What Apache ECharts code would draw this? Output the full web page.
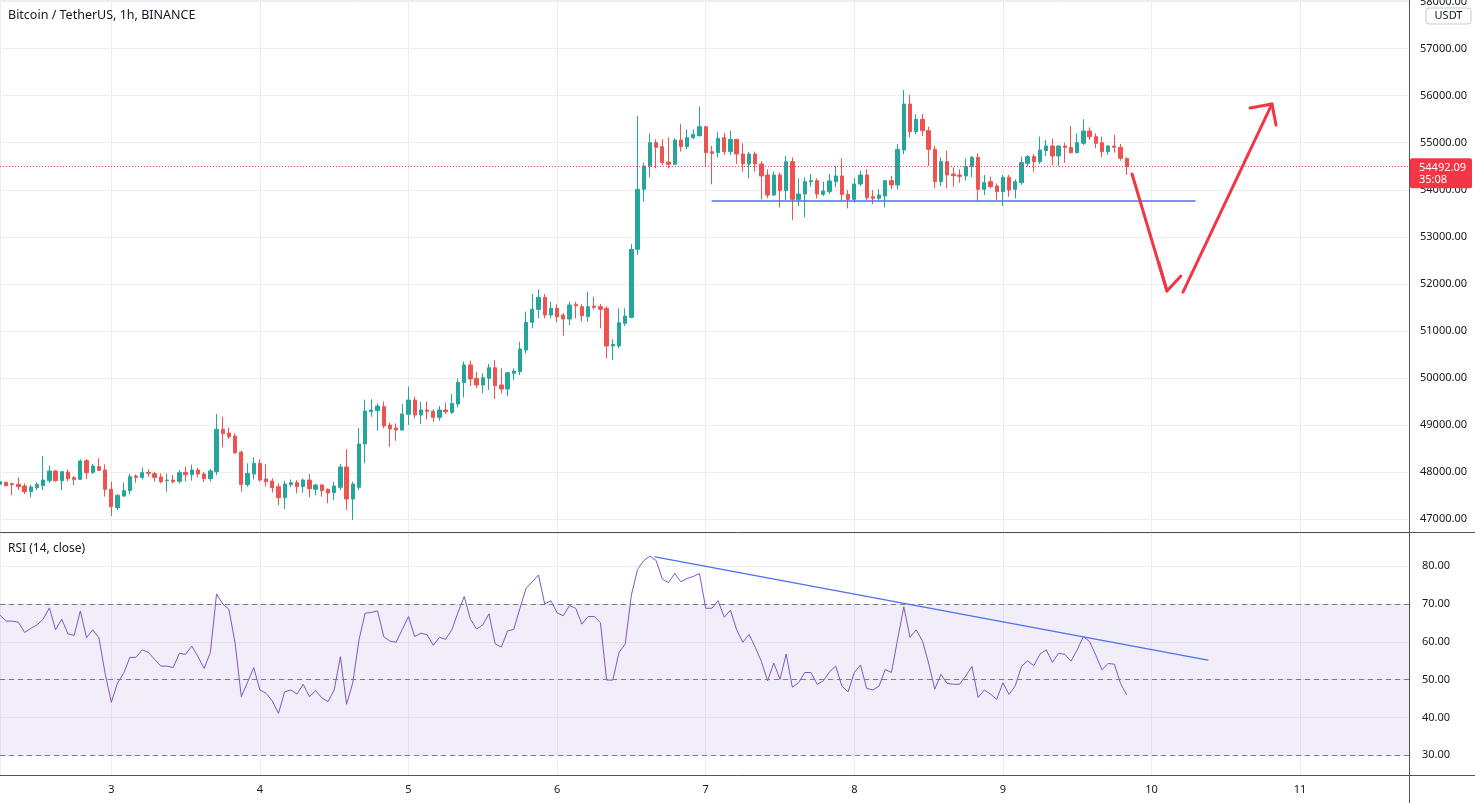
<!DOCTYPE html>
<html><head><meta charset="utf-8">
<script src="https://cdn.jsdelivr.net/npm/echarts@6/dist/echarts.min.js"></script>
<style>html,body{margin:0;padding:0;background:#fff}#c{width:1475px;height:803px}</style>
</head><body><div id="c"></div><script>
// ---- data (hourly candles, first candle: day 2, 06:00) ----
const firstCandleDay = 2.25;
const hourStep = 1 / 24;
const opens = [47742,47785,47756,47742,47707,47586,47671,47714,47820,48025,47820,48004,47884,47848,48245,47997,48117,48047,47636,47246,47494,47608,47919,47891,47997,47969,47898,47820,47834,47806,47997,47948,48047,47962,47863,48011,48911,48833,48769,48429,47735,47962,48189,47855,47813,47693,47459,47735,47778,47693,47834,47636,47728,47636,47565,47679,48111,47431,47679,48599,49286,49308,49392,49003,48939,48897,49230,49534,49215,49322,49293,49166,49322,49272,49449,49902,50278,49994,49853,49994,50221,49853,49768,50101,50136,50596,51184,51460,51715,51340,51482,51340,51255,51567,51517,51305,51531,51517,51481,50681,50681,51163,51290,52735,54010,54505,55001,54916,54590,54541,55058,54916,55107,55150,55341,54810,54789,55107,54810,55072,54760,54548,54760,54548,54314,53889,54314,53981,54597,53797,53910,54172,54194,53903,53960,54172,54293,53903,53797,54123,54314,53853,53818,53868,54194,54102,54845,55822,55235,55497,55256,54859,54172,54597,54335,54314,54293,54491,54689,54010,54172,54080,53960,54265,54010,54151,54562,54704,54597,54831,54930,54718,54930,54902,54789,54987,55249,55128,55001,54810,54930,54902,54668];
const highs = [47813,47800,47780,47891,47763,47728,47785,48344,48139,48047,48025,48061,47919,48273,48280,48174,48294,48167,47799,47537,47778,47969,47955,48103,48061,48011,47976,47976,47940,48047,48117,48160,48090,48011,48068,49237,49180,48953,48826,48458,48189,48316,48273,48174,47870,47763,47820,47848,47834,47862,47962,47749,47749,47657,47799,48174,48486,47799,48939,49540,49550,49463,49499,49052,49038,49449,49817,49605,49499,49499,49336,49407,49478,49662,49994,50349,50370,50136,50101,50299,50384,50207,50122,50207,50773,51411,51786,51885,51786,51623,51567,51375,51623,51623,51567,51836,51729,51573,51517,50823,51481,51481,52848,55568,54576,55199,55072,55072,55114,55093,55397,55284,55284,55766,55355,54930,55235,55213,55256,55080,54987,54810,54810,54612,54434,54385,54364,54718,54689,54243,54265,54335,54243,54172,54335,54505,54668,53995,54257,54406,54434,53995,54009,54200,54293,54973,56120,56014,55610,55610,55341,54930,54689,54831,54477,54434,54668,54718,54774,54314,54279,54137,54314,54314,54222,54704,54739,54760,55128,55058,55093,54940,55001,55355,55199,55497,55327,55199,55128,54951,55164,54973,54680];
const lows = [47728,47700,47515,47622,47537,47466,47622,47622,47778,47799,47622,47806,47728,47834,47862,47962,48032,47480,47069,47197,47480,47530,47778,47848,47905,47799,47763,47586,47763,47763,47806,47820,47891,47792,47799,47941,48528,48705,48387,47586,47693,47848,47799,47693,47565,47303,47218,47679,47551,47565,47466,47509,47480,47339,47409,47622,47197,46984,47622,48189,49180,48882,48932,48542,48670,48882,49003,49145,49024,49123,49074,49095,49237,49237,49378,49591,49831,49782,49676,49747,49555,49676,49619,49959,50065,50526,51057,51269,51269,51269,51184,50901,51127,51269,51198,51198,51460,51056,50419,50384,50631,51106,51269,52615,53748,54265,54456,54526,54456,54526,54810,54859,55072,55128,54505,54116,54689,54739,54739,54548,54385,54243,54385,53797,53819,53868,53627,53783,53358,53655,53415,54066,53818,53868,53910,54052,53783,53606,53726,54080,53769,53698,53769,53627,54009,54009,54760,55114,55185,55142,54505,54031,54080,54031,54066,54151,54194,54265,53769,53889,54031,53783,53656,53854,53818,54102,54491,54385,54548,54718,54527,54505,54576,54774,54774,54951,55058,54881,54689,54739,54789,54618,54314];
const closes = [47799,47714,47735,47693,47586,47685,47742,47834,48025,47820,48011,47862,47848,48238,47990,48132,48040,47636,47268,47508,47608,47905,47891,47990,47976,47891,47799,47834,47799,47990,47948,48047,47962,47863,48026,48911,48819,48755,48415,47735,47976,48189,47834,47799,47671,47459,47749,47778,47693,47834,47650,47728,47608,47558,47707,48111,47431,47749,48599,49300,49322,49406,48982,48918,48897,49237,49534,49215,49322,49293,49166,49322,49286,49463,49909,50278,49980,49853,50009,50221,49839,49768,50115,50150,50618,51184,51460,51715,51340,51482,51305,51255,51552,51538,51326,51517,51503,51460,50681,50717,51177,51318,52735,54010,54505,55001,54902,54576,54541,55058,54916,55107,55178,55341,54789,54774,55093,54810,55072,54760,54548,54760,54548,54293,53889,54314,53981,54597,53797,53910,54172,54194,53910,53974,54187,54293,53903,53797,54123,54314,53832,53818,53889,54194,54102,54859,55822,55235,55497,55256,54859,54172,54597,54314,54300,54286,54491,54689,54010,54151,54066,53960,54265,53995,54172,54576,54704,54597,54845,54930,54718,54930,54902,54789,55001,55249,55128,54987,54810,54930,54902,54668,54492.09];
const rsiValues = [67.1,65.5,65.5,65.2,62.5,63.6,64.5,66.0,69.0,63.2,66.0,62.1,61.7,68.2,61.1,63.2,61.1,51.7,44.0,49.1,51.7,55.9,55.9,57.9,57.2,55.4,53.6,53.6,53.2,57.0,56.7,58.9,56.1,53.0,57.2,72.7,70.0,68.6,59.6,45.5,49.3,53.2,47.3,46.4,44.4,41.1,46.8,47.3,46.2,48.8,45.5,47.1,45.2,44.2,47.3,56.1,43.5,49.2,60.5,67.6,67.8,68.2,61.4,60.2,59.9,63.3,66.7,61.4,62.3,61.9,59.1,61.2,60.7,63.2,67.8,72.0,66.0,63.4,64.5,67.4,59.5,58.6,62.9,63.3,68.9,74.2,75.9,77.7,70.0,70.9,67.7,66.9,69.6,68.9,64.7,66.7,66.7,65.1,49.9,49.9,57.2,59.4,72.4,79.2,81.5,82.7,81.5,76.6,75.7,78.1,75.9,76.8,77.3,78.1,68.9,68.9,70.9,66.5,68.4,63.2,59.9,62.0,58.6,54.8,49.7,54.4,50.1,56.8,48.0,49.2,51.9,51.9,48.8,49.7,52.1,53.6,48.3,46.8,51.9,53.9,47.7,47.3,48.3,52.7,51.9,60.7,69.3,61.2,63.2,60.3,54.4,47.5,51.4,49.0,48.8,48.8,51.0,53.5,45.3,47.3,46.2,44.8,49.2,46.1,48.4,53.5,55.0,53.7,56.8,57.9,54.6,57.0,56.7,54.9,57.9,61.4,60.1,56.5,52.6,54.3,54.1,49.0,45.95];
const dayLabels = [3,4,5,6,7,8,9,10,11];
const rsiBand = [30, 70];
const rsiMid = 50;
const lastPrice = 54492.09;
const countdown = '35:08';
const currency = 'USDT';
// drawings (day, value)
const supportLine = [[7.044, 53762], [10.293, 53762]];
const rsiTrendLine = [[6.659, 82.5], [10.380, 55.2]];
const arrowDown = [[9.869, 54335], [10.104, 51850]];
const arrowDownHead = [[10.05, 52450], [10.104, 51850], [10.198, 52168]];
const arrowUp = [[10.212, 51828], [10.811, 55823]];
const arrowUpHead = [[10.663, 55738], [10.811, 55823], [10.838, 55376]];

// ---- chart ----
const FONT = '"Noto Sans", "Open Sans", Roboto, sans-serif';
const GRID = '#eceef3';
const TXT = '#131722';
const UP = '#26a69a', DOWN = '#ef5350';
const xMin = 2.251, xMax = 11.733;

const candles = opens.map((o, i) => [firstCandleDay + i * hourStep, o, closes[i], lows[i], highs[i]]);
const rsiData = rsiValues.map((v, i) => [firstCandleDay + i * hourStep, v]);

const chart = echarts.init(document.getElementById('c'), null, {renderer: 'canvas', width: 1475, height: 803});

function drawLine(data, xi, color, width) {
  return {type: 'line', xAxisIndex: xi, yAxisIndex: xi, data: data, symbol: 'none', silent: true, z: 5,
    lineStyle: {color: color, width: width, cap: 'round', join: 'round'}};
}

const xAxisBase = (gi, showLabel) => ({
  type: 'value', gridIndex: gi, min: xMin, max: xMax, minInterval: 1, maxInterval: 1,
  axisLine: {show: false}, axisTick: {show: false},
  axisLabel: {show: showLabel, margin: 9, color: TXT, fontSize: 11, fontFamily: FONT,
    formatter: v => (Math.abs(v - Math.round(v)) < 1e-6 && dayLabels.indexOf(Math.round(v)) >= 0) ? String(Math.round(v)) : ''},
  splitLine: {show: true, lineStyle: {color: GRID, width: 1}}
});

const option = {
  animation: false,
  backgroundColor: '#ffffff',
  title: [
    {text: 'Bitcoin / TetherUS, 1h, BINANCE', left: 8, top: 9, padding: 0, textStyle: {fontSize: 12.5, fontWeight: 'normal', color: TXT, fontFamily: FONT}},
    {text: 'RSI (14, close)', left: 8, top: 543, padding: 0, textStyle: {fontSize: 12, fontWeight: 'normal', color: TXT, fontFamily: FONT}}
  ],
  grid: [
    {left: 0, top: 0, width: 1409, height: 532, containLabel: false, outerBoundsMode: 'none'},
    {left: 0, top: 533, width: 1409, height: 242, containLabel: false, outerBoundsMode: 'none'}
  ],
  xAxis: [xAxisBase(0, false), xAxisBase(1, true)],
  yAxis: [
    {type: 'value', gridIndex: 0, position: 'right', min: 46730, max: 58032, minInterval: 1000, maxInterval: 1000,
      axisLine: {show: false}, axisTick: {show: false},
      axisLabel: {margin: 11, color: TXT, fontSize: 11, fontFamily: FONT,
        formatter: v => (Math.round(v) % 1000 === 0 && Math.abs(v - Math.round(v)) < 1e-6) ? v.toFixed(2) : ''},
      splitLine: {show: true, lineStyle: {color: GRID, width: 1}}},
    {type: 'value', gridIndex: 1, position: 'right', min: 24.8, max: 88.8, minInterval: 10, maxInterval: 10,
      axisLine: {show: false}, axisTick: {show: false},
      axisLabel: {margin: 13, color: TXT, fontSize: 11, fontFamily: FONT,
        formatter: v => (Math.abs(v / 10 - Math.round(v / 10)) < 1e-6) ? v.toFixed(2) : ''},
      splitLine: {show: true, lineStyle: {color: GRID, width: 1}}}
  ],
  series: [
    {type: 'candlestick', xAxisIndex: 0, yAxisIndex: 0, data: candles, encode: {x: 0, y: [1, 2, 3, 4]},
      barWidth: 3.8, z: 3,
      itemStyle: {color: UP, color0: DOWN, borderColor: UP, borderColor0: DOWN, borderWidth: 1},
      markLine: {silent: true, symbol: 'none', label: {show: false}, emphasis: {disabled: true},
        lineStyle: {color: '#f23645', type: [1, 2], width: 1, opacity: 1}, data: [{yAxis: lastPrice, lineStyle: {color: '#f23645'}}]}},
    {type: 'line', xAxisIndex: 1, yAxisIndex: 1, data: rsiData, symbol: 'none', z: 4,
      lineStyle: {color: '#7e57c2', width: 1},
      markArea: {silent: true, itemStyle: {color: 'rgba(126,87,194,0.1)'}, data: [[{yAxis: rsiBand[0]}, {yAxis: rsiBand[1]}]]},
      markLine: {silent: true, symbol: 'none', label: {show: false},
        lineStyle: {color: '#787b86', type: [5, 4], width: 1},
        data: [{yAxis: rsiBand[1]}, {yAxis: rsiMid}, {yAxis: rsiBand[0]}]}},
    drawLine(supportLine, 0, '#4d6ff0', 1.6),
    drawLine(rsiTrendLine, 1, '#4d6ff0', 1.2),
    drawLine(arrowDown, 0, '#f23645', 3),
    drawLine(arrowDownHead, 0, '#f23645', 3),
    drawLine(arrowUp, 0, '#f23645', 3),
    drawLine(arrowUpHead, 0, '#f23645', 3)
  ]
};
chart.setOption(option);

const yLast = chart.convertToPixel({yAxisIndex: 0}, lastPrice);
chart.setOption({
  graphic: [
    {type: 'line', silent: true, z: 100, shape: {x1: 0, y1: 532.5, x2: 1475, y2: 532.5}, style: {stroke: '#50535e', lineWidth: 1}},
    {type: 'line', silent: true, z: 100, shape: {x1: 0, y1: 775.5, x2: 1475, y2: 775.5}, style: {stroke: '#50535e', lineWidth: 1}},
    {type: 'line', silent: true, z: 100, shape: {x1: 1409.5, y1: 0, x2: 1409.5, y2: 803}, style: {stroke: '#50535e', lineWidth: 1}},
    {type: 'rect', silent: true, z: 100, shape: {x: 1426, y: 8, width: 45, height: 16, r: 3},
      style: {fill: '#ffffff', stroke: '#c8cbd3', lineWidth: 1}},
    {type: 'text', silent: true, z: 101, x: 1448.5, y: 16,
      style: {text: currency, fill: TXT, font: '11px ' + FONT, align: 'center', verticalAlign: 'middle'}},
    {type: 'rect', silent: true, z: 100, shape: {x: 1410, y: yLast - 8.5, width: 62, height: 30, r: 2},
      style: {fill: '#f23645'}},
    {type: 'text', silent: true, z: 101, x: 1419, y: yLast + 1,
      style: {text: lastPrice.toFixed(2), fill: '#ffffff', font: '11px ' + FONT, align: 'left', verticalAlign: 'middle'}},
    {type: 'text', silent: true, z: 101, x: 1419, y: yLast + 13.5,
      style: {text: countdown, fill: '#ffffff', font: '11px ' + FONT, align: 'left', verticalAlign: 'middle'}}
  ]
});
</script></body></html>
